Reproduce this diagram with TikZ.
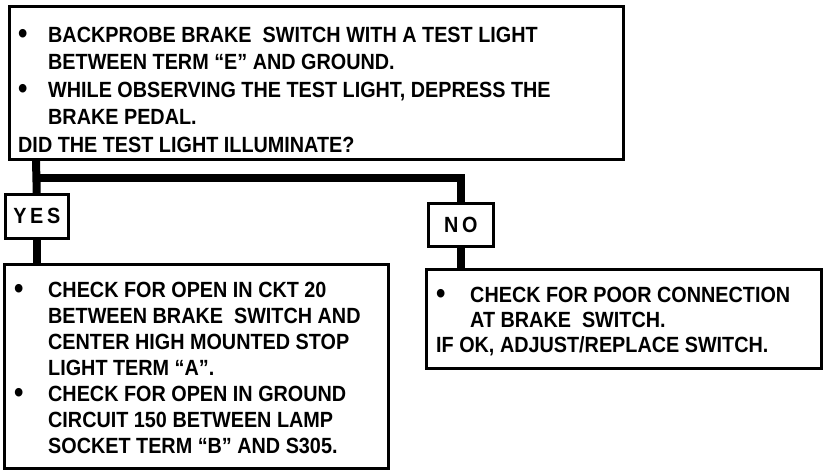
\documentclass[tikz,border=0pt]{standalone}
\usepackage{fontspec}
\setmainfont{Liberation Sans}[FakeStretch=0.9]
\usetikzlibrary{calc}
\newcommand{\bigbul}{\raisebox{-1pt}{\scalebox{1.35}{\textbullet}}}
\tikzset{
  box/.style={draw=black, line width=2.5pt, fill=white, inner sep=0pt, anchor=north west},
  conn/.style={draw=black, line width=8pt},
  txt/.style={inner sep=0pt, anchor=base west, font=\bfseries\fontsize{22}{27.5}\selectfont},
}
\begin{document}
\begin{tikzpicture}[x=1pt,y=-1pt]
\useasboundingbox[fill=white] (0,0) rectangle (832,472);
% boxes
\node[box, minimum width=614pt, minimum height=153pt] (top) at (8,5) {};
\node[box, minimum width=63pt, minimum height=44pt] (yes) at (4,193) {};
\node[box, minimum width=65pt, minimum height=43pt] (no) at (427,202) {};
\node[box, minimum width=384pt, minimum height=204pt] (ybox) at (3,263) {};
\node[box, minimum width=395pt, minimum height=99pt] (nbox) at (425,268) {};
% connectors
\coordinate (j) at (36,178);
\draw[conn] (j |- top.south) -- (yes.north);
\draw[conn] (j) -| (no.north);
\draw[conn] (yes.south) -- (ybox.north -| yes.south);
\draw[conn] (no.south) -- (nbox.north -| no.south);
% labels
\node[font=\bfseries\fontsize{22}{26}\selectfont, inner sep=0pt] (yest) at (yes.center) {Y\,E\,S};
\node[font=\bfseries\fontsize{22}{26}\selectfont, inner sep=0pt] (not) at (no.center) {N\,O};
% texts
\node[txt] (toptext) at (18,42) {\begin{tabular}[t]{@{}p{30pt}@{}l@{}}
\bigbul & BACKPROBE BRAKE\ \ SWITCH WITH A TEST LIGHT\\
 & BETWEEN TERM ``E'' AND GROUND.\\
\bigbul & WHILE OBSERVING THE TEST LIGHT, DEPRESS THE\\
 & BRAKE PEDAL.\\
\multicolumn{2}{@{}l@{}}{DID THE TEST LIGHT ILLUMINATE?}
\end{tabular}};
\node[txt, font=\bfseries\fontsize{22}{26}\selectfont] (ytext) at (14,297) {\begin{tabular}[t]{@{}p{34pt}@{}l@{}}
\bigbul & CHECK FOR OPEN IN CKT 20\\
 & BETWEEN BRAKE\ \ SWITCH AND\\
 & CENTER HIGH MOUNTED STOP\\
 & LIGHT TERM ``A''.\\
\bigbul & CHECK FOR OPEN IN GROUND\\
 & CIRCUIT 150 BETWEEN LAMP\\
 & SOCKET TERM ``B'' AND S305.
\end{tabular}};
\node[txt, font=\bfseries\fontsize{22}{25}\selectfont] (ntext) at (436,302) {\begin{tabular}[t]{@{}p{34pt}@{}l@{}}
\bigbul & CHECK FOR POOR CONNECTION\\
 & AT BRAKE\ \ SWITCH.\\
\multicolumn{2}{@{}l@{}}{IF OK, ADJUST/REPLACE SWITCH.}
\end{tabular}};
\end{tikzpicture}
\end{document}
